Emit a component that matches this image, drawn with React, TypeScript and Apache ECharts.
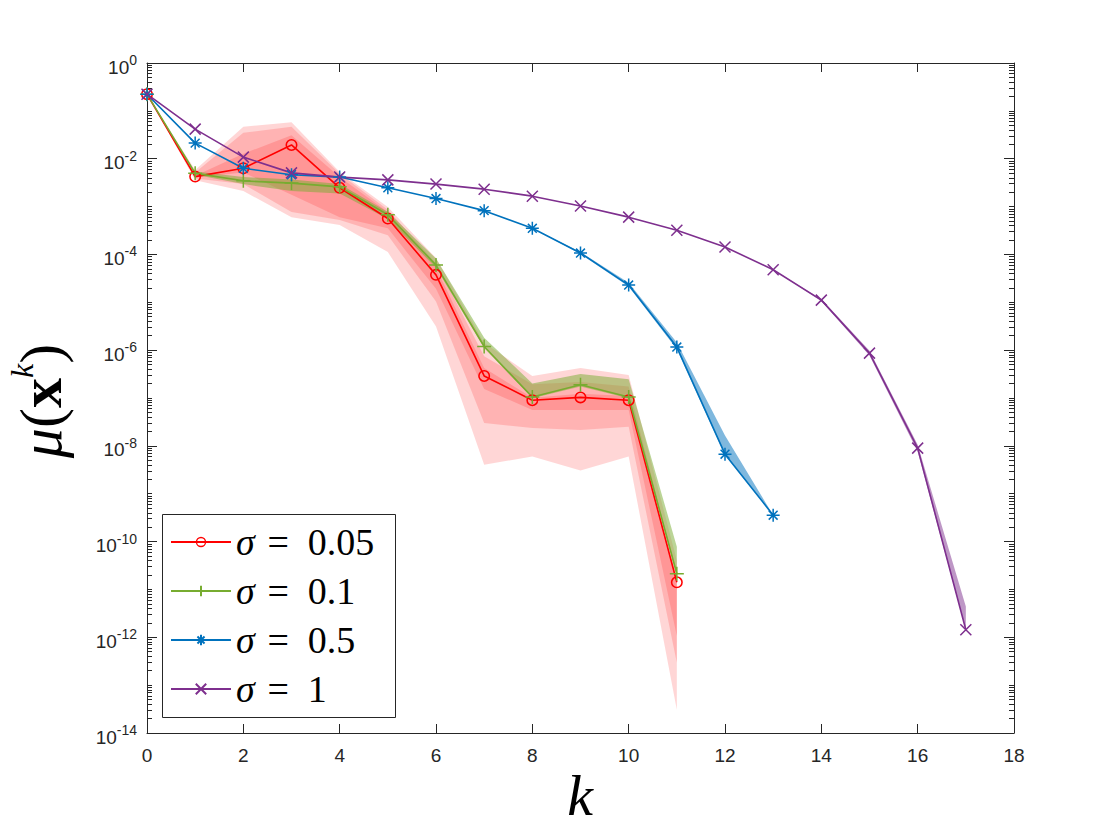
import React, { useEffect, useRef } from "react";
import * as echarts from "echarts";

// ---------------- data ----------------
const kValues = [0, 1, 2, 3, 4, 5, 6, 7, 8, 9, 10, 11, 12, 13, 14, 15, 16, 17];
const sigmaLabels = ["σ = 0.05", "σ = 0.1", "σ = 0.5", "σ = 1"];

const mu005 = [0.223, 4.23e-3, 6.32e-3, 1.94e-2, 2.47e-3, 5.62e-4, 3.74e-5, 2.89e-7, 9.0e-8, 1.03e-7, 9.0e-8, 1.41e-11];
const mu01 = [0.223, 4.94e-3, 3.45e-3, 3.09e-3, 2.58e-3, 6.73e-4, 5.98e-5, 1.19e-6, 1.05e-7, 1.89e-7, 1.05e-7, 2.12e-11];
const mu05 = [0.223, 2.12e-2, 6.32e-3, 4.62e-3, 4.13e-3, 2.47e-3, 1.47e-3, 8.22e-4, 3.52e-4, 1.07e-4, 2.29e-5, 1.16e-6, 6.7e-9, 3.56e-10];
const mu1 = [0.223, 4.15e-2, 1.08e-2, 5.06e-3, 4.13e-3, 3.61e-3, 2.95e-3, 2.31e-3, 1.65e-3, 1.03e-3, 6.01e-4, 3.21e-4, 1.43e-4, 4.79e-5, 1.11e-5, 8.67e-7, 8.97e-9, 1.44e-12];

// sigma = 0.05 : three nested bands
const red005OuterHi = [0.223, 5.78e-3, 4.65e-2, 5.81e-2, 5.28e-3, 9.84e-4, 8.38e-5, 1.42e-6, 2.89e-7, 4.23e-7, 3.03e-7, 4.0e-11];
const red005OuterLo = [0.223, 3.53e-3, 2.11e-3, 6.01e-4, 4.11e-4, 1.12e-4, 3.11e-6, 4.01e-9, 6.0e-9, 3.06e-9, 6.0e-9, 3.05e-14];
const red005MidHi = [0.223, 5.16e-3, 3.47e-2, 4.65e-2, 4.83e-3, 8.61e-4, 6.55e-5, 7.41e-7, 1.93e-7, 2.16e-7, 1.73e-7, 1.98e-11];
const red005MidLo = [0.223, 3.86e-3, 2.95e-3, 7.69e-4, 5.26e-4, 2.51e-4, 1.04e-5, 3.01e-8, 2.35e-8, 2.15e-8, 2.51e-8, 2.93e-13];
const red005InnerHi = [0.223, 4.42e-3, 1.27e-2, 3.10e-2, 4.13e-3, 7.69e-4, 5.24e-5, 4.23e-7, 1.01e-7, 1.23e-7, 1.10e-7, 1.58e-11];
const red005InnerLo = [0.223, 4.04e-3, 5.16e-3, 1.76e-3, 6.01e-4, 3.52e-4, 1.91e-5, 1.55e-7, 5.64e-8, 5.64e-8, 5.64e-8, 1.07e-12];

// sigma = 0.1 band
const green01Hi = [0.223, 5.41e-3, 4.13e-3, 3.69e-3, 2.95e-3, 7.69e-4, 8.18e-5, 1.82e-6, 2.02e-7, 3.16e-7, 2.47e-7, 7.76e-11];
const green01Lo = [0.223, 4.62e-3, 2.95e-3, 2.11e-3, 1.88e-3, 5.50e-4, 5.24e-5, 1.11e-6, 9.86e-8, 1.73e-7, 9.86e-8, 1.98e-11];

// sigma = 0.5 band
const blue05Hi = [0.223, 2.12e-2, 6.32e-3, 4.62e-3, 4.13e-3, 2.47e-3, 1.47e-3, 8.22e-4, 3.52e-4, 1.12e-4, 2.55e-5, 1.45e-6, 1.64e-8, 3.56e-10];
const blue05Lo = [0.223, 2.12e-2, 6.32e-3, 4.62e-3, 4.13e-3, 2.47e-3, 1.47e-3, 8.22e-4, 3.52e-4, 1.02e-4, 2.13e-5, 1.04e-6, 6.4e-9, 3.56e-10];

// sigma = 1 band
const purple1Hi = [0.223, 4.15e-2, 1.08e-2, 5.06e-3, 4.13e-3, 3.61e-3, 2.95e-3, 2.31e-3, 1.65e-3, 1.03e-3, 6.01e-4, 3.21e-4, 1.43e-4, 4.79e-5, 1.17e-5, 9.7e-7, 1.05e-8, 4.4e-12];
const purple1Lo = [0.223, 4.15e-2, 1.08e-2, 5.06e-3, 4.13e-3, 3.61e-3, 2.95e-3, 2.31e-3, 1.65e-3, 1.03e-3, 6.01e-4, 3.21e-4, 1.43e-4, 4.79e-5, 1.07e-5, 7.75e-7, 7.5e-9, 1.44e-12];

// axis ticks (exponents of ten)
const yMajorExponents = [-14, -12, -10, -8, -6, -4, -2, 0];
const xTickMin = 0;
const xTickMax = 18;
const xTickStep = 2;

// ---------------- styling ----------------
const SANS = "'Liberation Sans', Arial, Helvetica, sans-serif";
const SERIF = "'Liberation Serif', 'Times New Roman', serif";
const AXIS = "#262626";
const RED = "#ff0000";
const GREEN = "#77ac30";
const BLUE = "#0072bd";
const PURPLE = "#7e2f8e";

const RING = "path://M10,5A5,5 0 1,0 0,5A5,5 0 1,0 10,5ZM8.7,5A3.7,3.7 0 1,1 1.3,5A3.7,3.7 0 1,1 8.7,5Z";
const PLUS = "path://M5,0L5,10M0,5L10,5";
const STAR = "path://M5,0L5,10M0,5L10,5M1.6,1.6L8.4,8.4M8.4,1.6L1.6,8.4";
const CROSS = "path://M0,0L10,10M10,0L0,10";

function minorExponents(): number[] {
  const out: number[] = [];
  for (let n = yMajorExponents[0]; n < 0; n++) {
    if (n % 2 !== 0) out.push(n);
    for (let m = 2; m <= 9; m++) out.push(n + Math.log10(m));
  }
  return out;
}

type Layer = { hi: number[]; lo: number[]; fill: string };

function bandSeries(id: string, layers: Layer[]) {
  return {
    type: "custom",
    id,
    name: id,
    silent: true,
    xAxisIndex: 0,
    yAxisIndex: 0,
    data: [[0, 1]],
    z: 2,
    renderItem: (_p: any, api: any) => ({
      type: "group",
      children: layers.map((L) => {
        const pts: number[][] = [];
        for (let i = 0; i < L.hi.length; i++) pts.push(api.coord([kValues[i], L.hi[i]]));
        for (let i = L.lo.length - 1; i >= 0; i--) pts.push(api.coord([kValues[i], L.lo[i]]));
        return { type: "polygon", shape: { points: pts }, style: { fill: L.fill, stroke: "none" } };
      }),
    }),
  };
}

function lineSeries(name: string, vals: number[], color: string, symbol: string, size: number, border: number) {
  return {
    type: "line",
    name,
    data: vals.map((v, i) => [kValues[i], v]),
    xAxisIndex: 0,
    yAxisIndex: 0,
    symbol,
    symbolSize: size,
    showSymbol: true,
    showAllSymbol: true,
    silent: true,
    z: 2,
    lineStyle: { color, width: 1.6 },
    itemStyle: { color, borderColor: color, borderWidth: border },
    emphasis: { disabled: true },
  };
}

function yValueAxis(position: string, ticks: number[] | null, len: number, labels: boolean, line: boolean) {
  const ax: any = {
    type: "value",
    position,
    min: yMajorExponents[0],
    max: yMajorExponents[yMajorExponents.length - 1],
    interval: 2,
    axisLine: { show: line, onZero: false, lineStyle: { color: AXIS, width: 1 } },
    axisTick: { show: true, inside: true, length: len, lineStyle: { color: AXIS, width: 1 } },
    splitLine: { show: false },
    axisLabel: { show: false },
  };
  if (ticks) ax.axisTick.customValues = ticks;
  if (labels) {
    ax.axisLabel = {
      show: true,
      margin: 10,
      padding: [8, 0, 0, 0],
      formatter: (v: number) => `{b|10}{s|${v}}`,
      rich: {
        b: { fontFamily: SANS, fontSize: 19, color: AXIS, lineHeight: 28 },
        s: { fontFamily: SANS, fontSize: 14, color: AXIS, verticalAlign: "top", lineHeight: 10 },
      },
    };
  }
  return ax;
}

export default function App() {
  const ref = useRef<HTMLDivElement>(null);

  useEffect(() => {
    document.body.style.margin = "0";
    if (!ref.current) return;
    const chart = echarts.init(ref.current, null, { renderer: "svg" });
    const minors = minorExponents();

    const xAxisBase = {
      type: "value",
      min: xTickMin,
      max: xTickMax,
      interval: xTickStep,
      splitLine: { show: false },
      axisLine: { show: true, onZero: false, lineStyle: { color: AXIS, width: 1 } },
      axisTick: { show: true, inside: true, length: 9, lineStyle: { color: AXIS, width: 1 } },
    };

    const option: any = {
      animation: false,
      backgroundColor: "#ffffff",
      grid: { left: 147, right: 106, top: 63, bottom: 107, containLabel: false },
      xAxis: [
        {
          ...xAxisBase,
          position: "bottom",
          axisLabel: { show: true, margin: 13, fontFamily: SANS, fontSize: 19, color: AXIS },
        },
        { ...xAxisBase, position: "top", axisLabel: { show: false } },
      ],
      yAxis: [
        {
          type: "log",
          logBase: 10,
          min: 1e-14,
          max: 1,
          position: "left",
          axisLine: { show: false, onZero: false },
          axisTick: { show: false },
          axisLabel: { show: false },
          splitLine: { show: false },
          minorTick: { show: false },
        },
        yValueAxis("left", null, 10, true, true),
        yValueAxis("left", minors, 5, false, false),
        yValueAxis("right", null, 10, false, true),
        yValueAxis("right", minors, 5, false, false),
      ],
      legend: {
        data: sigmaLabels,
        orient: "vertical",
        left: 170,
        top: 522,
        padding: 0,
        itemGap: 9,
        itemWidth: 60,
        itemHeight: 13,
        selectedMode: false,
        z: 4,
        formatter: (name: string) => `{i|σ}{n|${name.slice(1).replace(/ = /, "\u2004=\u2002")}}`,
        textStyle: {
          fontFamily: SERIF,
          fontSize: 38,
          lineHeight: 40,
          color: "#000",
          rich: {
            i: { fontFamily: SERIF, fontStyle: "italic", fontSize: 38, lineHeight: 40, color: "#000" },
            n: { fontFamily: SERIF, fontSize: 38, lineHeight: 40, color: "#000" },
          },
        },
      },
      graphic: [
        {
          type: "rect",
          z: 3,
          silent: true,
          shape: { x: 162.5, y: 514.5, width: 233, height: 203 },
          style: { fill: "#ffffff", stroke: AXIS, lineWidth: 1 },
        },
        {
          type: "text",
          x: 580,
          y: 795,
          silent: true,
          style: {
            text: "k",
            fontFamily: SERIF,
            fontStyle: "italic",
            fontSize: 58,
            fill: "#000",
            align: "center",
            verticalAlign: "middle",
          },
        },
        {
          type: "text",
          x: 41,
          y: 401,
          rotation: Math.PI / 2,
          silent: true,
          style: {
            text: "{m|μ}{p|(}{b|x}{s|k}{p|)}",
            align: "center",
            verticalAlign: "middle",
            rich: {
              m: { fontFamily: SERIF, fontStyle: "italic", fontSize: 60, lineHeight: 70, fill: "#000" },
              p: { fontFamily: SERIF, fontSize: 60, lineHeight: 70, fill: "#000" },
              b: { fontFamily: SERIF, fontWeight: "bold", fontSize: 60, lineHeight: 70, fill: "#000" },
              s: { fontFamily: SERIF, fontStyle: "italic", fontSize: 32, lineHeight: 30, verticalAlign: "top", fill: "#000" },
            },
          },
        },
      ],
      series: [
        bandSeries("band005", [
          { hi: red005OuterHi, lo: red005OuterLo, fill: "rgba(255,0,0,0.16)" },
          { hi: red005MidHi, lo: red005MidLo, fill: "rgba(255,0,0,0.16)" },
          { hi: red005InnerHi, lo: red005InnerLo, fill: "rgba(255,0,0,0.16)" },
        ]),
        lineSeries(sigmaLabels[0], mu005, RED, RING, 12, 0),
        bandSeries("band01", [{ hi: green01Hi, lo: green01Lo, fill: "rgba(119,172,48,0.5)" }]),
        lineSeries(sigmaLabels[1], mu01, GREEN, PLUS, 14, 1.5),
        bandSeries("band05", [{ hi: blue05Hi, lo: blue05Lo, fill: "rgba(0,114,189,0.5)" }]),
        lineSeries(sigmaLabels[2], mu05, BLUE, STAR, 13, 1.5),
        bandSeries("band1", [{ hi: purple1Hi, lo: purple1Lo, fill: "rgba(126,47,142,0.5)" }]),
        lineSeries(sigmaLabels[3], mu1, PURPLE, CROSS, 11, 1.5),
      ],
    };

    chart.setOption(option);
    return () => chart.dispose();
  }, []);

  return <div ref={ref} style={{ width: 1120, height: 840 }} />;
}
